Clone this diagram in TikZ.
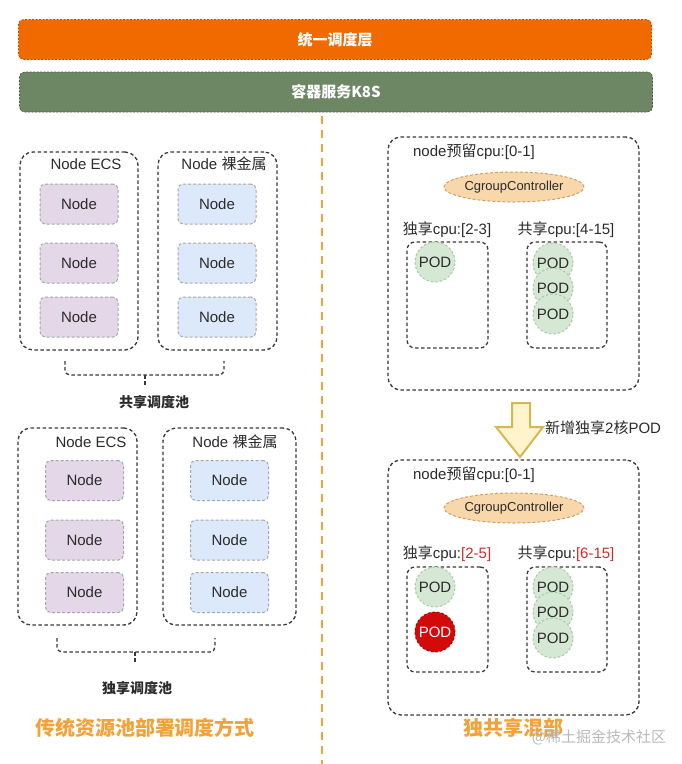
\documentclass[tikz,border=0pt]{standalone}
\usepackage{fontspec}
\setmainfont{Liberation Sans}
\newfontfamily\cjk{Noto Sans CJK SC}
\usetikzlibrary{shapes.geometric}
\definecolor{barorange}{HTML}{F06A00}
\definecolor{bargreen}{HTML}{6D8764}
\definecolor{ecsfill}{HTML}{E3D7E8}
\definecolor{metalfill}{HTML}{DCE9FB}
\definecolor{podfill}{HTML}{D5E8D4}
\definecolor{podline}{HTML}{A9C9A2}
\definecolor{ctrlfill}{HTML}{F8D7AA}
\definecolor{ctrlline}{HTML}{C9A165}
\definecolor{podred}{HTML}{D20A0A}
\definecolor{titleorange}{HTML}{F2A23A}
\definecolor{arrowfill}{HTML}{FFF4CC}
\definecolor{arrowline}{HTML}{D4B850}
\definecolor{cpured}{HTML}{D22B2B}
\definecolor{textdark}{HTML}{2B2B2B}

\begin{document}
\begin{tikzpicture}[x=1pt, y=-1pt,
    every node/.style={font=\fontsize{15pt}{18pt}\selectfont, text=textdark, inner sep=0pt},
    bar/.style={draw, dash pattern=on 2pt off 1.5pt, line width=0.8pt, rounded corners=5pt,
                minimum width=633pt, minimum height=40pt, text=white,
                font=\cjk\bfseries\fontsize{15pt}{18pt}\selectfont},
    group/.style={draw=black!78, dash pattern=on 3.5pt off 2.5pt, line width=1.3pt, rounded corners=13pt},
    cpubox/.style={group, rounded corners=8pt},
    vm/.style={draw=gray!70, dash pattern=on 3pt off 2pt, line width=1pt, rounded corners=5pt,
               minimum width=78pt, minimum height=40pt},
    pod/.style={circle, draw=podline, fill=podfill, dash pattern=on 2.5pt off 2pt, line width=1pt,
                minimum size=40pt},
    ctrl/.style={ellipse, draw=ctrlline, fill=ctrlfill, dash pattern=on 3pt off 2pt, line width=1pt,
                 minimum width=118pt, minimum height=30pt, font=\fontsize{13pt}{15pt}\selectfont},
    poolname/.style={font=\cjk\bfseries\fontsize{14pt}{16pt}\selectfont},
    sidetitle/.style={font=\cjk\bfseries\fontsize{20pt}{22pt}\selectfont, text=titleorange},
    brace/.style={draw=black!78, dash pattern=on 3.5pt off 2.5pt, line width=1.3pt, rounded corners=5pt}
]
\useasboundingbox (0,0) rectangle (681,764);

% top layers
\node[bar, fill=barorange, draw=barorange!75!black] (sched) at (335,39.5) {统一调度层};
\node[bar, fill=bargreen, draw=bargreen!65!black] (k8s) at (336,92) {容器服务K8S};

% divider
\coordinate (divtop) at (322,116);
\coordinate (divbot) at (322,764);
\draw[titleorange, line width=1.6pt, dash pattern=on 8pt off 6pt] (divtop) -- (divbot);

% shared pool
\node[group, minimum width=118pt, minimum height=198pt] (ecsA) at (79,251) {};
\node[group, minimum width=119pt, minimum height=198pt] (metalA) at (217.5,251) {};
\node (ecsAlbl) at (86,164) {Node ECS};
\node (metalAlbl) at (224,164) {Node {\cjk 裸金属}};
\foreach \y [count=\i] in {204,263,317} {
  \node[vm, fill=ecsfill] (ecsA\i) at (79,\y) {Node};
  \node[vm, fill=metalfill] (metalA\i) at (217,\y) {Node};
}
\draw[brace] (65,361) -- (65,375) -- (224,375) -- (224,361);
\draw[brace] (145,375) -- (145,387);
\node[poolname] (sharedpool) at (154,402) {共享调度池};

% exclusive pool
\node[group, minimum width=119pt, minimum height=197pt] (ecsB) at (77.5,526.5) {};
\node[group, minimum width=133pt, minimum height=197pt] (metalB) at (229.5,526.5) {};
\node (ecsBlbl) at (91,442) {Node ECS};
\node (metalBlbl) at (235,442) {Node {\cjk 裸金属}};
\foreach \y [count=\i] in {480.5,540,592.5} {
  \node[vm, fill=ecsfill] (ecsB\i) at (84.5,\y) {Node};
  \node[vm, fill=metalfill] (metalB\i) at (229.5,\y) {Node};
}
\draw[brace] (57,638) -- (57,652) -- (215,652) -- (215,638);
\draw[brace] (135,652) -- (135,663);
\node[poolname] (exclpool) at (137,688) {独享调度池};

\node[sidetitle] (oldway) at (145,728) {传统资源池部署调度方式};

% mixed node, before
\node[group, minimum width=251pt, minimum height=253pt] (hostA) at (513.5,263.5) {};
\node (hostAlbl) at (474,152) {node{\cjk 预留}cpu:[0-1]};
\node[ctrl] (ctrlA) at (514,187) {CgroupController};
\node (exclAlbl) at (447,230) {{\cjk 独享}cpu:[2-3]};
\node (shareAlbl) at (566,230) {{\cjk 共享}cpu:[4-15]};
\node[cpubox, minimum width=81pt, minimum height=106pt] (exclA) at (447.5,295) {};
\node[cpubox, minimum width=80pt, minimum height=106pt] (shareA) at (567,295) {};
\node[pod] (podA) at (435,262) {POD};
\foreach \y [count=\i] in {263,288,314}
  \node[pod] (podA\i) at (553,\y) {POD};

% arrow
\draw[arrowline, fill=arrowfill, line width=2pt, line join=miter]
  (512,403) -- (530,403) -- (530,427) -- (543,427) -- (520,457) -- (496,427) -- (512,427) -- cycle;
\node[anchor=west] (addpod) at (545,428) {{\cjk 新增独享}2{\cjk 核}POD};

% mixed node, after
\node[group, minimum width=251pt, minimum height=255pt] (hostB) at (513.5,587.5) {};
\node (hostBlbl) at (474,475) {node{\cjk 预留}cpu:[0-1]};
\node[ctrl] (ctrlB) at (514,508) {CgroupController};
\node (exclBlbl) at (447,554) {{\cjk 独享}cpu:\textcolor{cpured}{[2-5]}};
\node (shareBlbl) at (566,554) {{\cjk 共享}cpu:\textcolor{cpured}{[6-15]}};
\node[cpubox, minimum width=81pt, minimum height=105pt] (exclB) at (447.5,619.5) {};
\node[cpubox, minimum width=80pt, minimum height=105pt] (shareB) at (567,619.5) {};
\node[pod] (podB) at (435,587) {POD};
\node[pod, fill=podred, draw=podred!80!black, text=white] (newpod) at (435,632) {POD};
\foreach \y [count=\i] in {587,612,638}
  \node[pod] (podB\i) at (553,\y) {POD};

\node[sidetitle] (mixway) at (513,728) {独共享混部};
\node[font=\cjk\fontsize{15pt}{17pt}\selectfont, text=gray!55] (mark) at (599,737) {@稀土掘金技术社区};
\end{tikzpicture}
\end{document}
